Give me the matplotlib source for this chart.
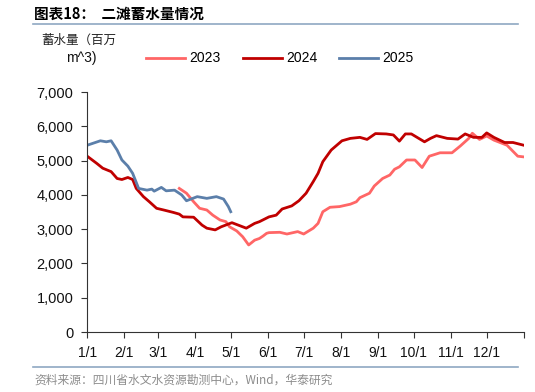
import numpy as np
import matplotlib
matplotlib.use("Agg")
import matplotlib.pyplot as plt

plt.rcParams['font.family'] = ['Liberation Sans', 'Noto Sans CJK SC', 'DejaVu Sans']

# ------------------------
# Data (day of year -> storage, million m^3)
# ------------------------

DAYS_2023 = [77, 83, 89, 94, 100, 105, 111, 116, 119, 125, 130, 135, 140, 144, 147,
             150, 152, 161, 167, 176, 181, 189, 193, 197, 203, 211, 220, 225, 228,
             236, 240, 247, 253, 257, 261, 267, 274, 280, 286, 295, 305, 312, 319,
             322, 328, 334, 340, 351, 360, 365]
VALS_2023 = [4190, 4050, 3800, 3610, 3560, 3410, 3270, 3220, 3070, 2950, 2780, 2540,
             2680, 2730, 2800, 2880, 2900, 2910, 2860, 2930, 2860, 3030, 3170, 3510,
             3640, 3660, 3730, 3800, 3920, 4050, 4260, 4480, 4580, 4750, 4820, 5020,
             5020, 4800, 5130, 5230, 5230, 5430, 5650, 5800, 5620, 5720, 5600, 5450,
             5130, 5110]

DAYS_2024 = [0, 8, 13, 20, 25, 29, 34, 38, 41, 47, 52, 58, 64, 72, 77, 80, 89, 96,
             100, 107, 112, 121, 133, 140, 144, 152, 158, 163, 171, 177, 183, 189,
             193, 197, 204, 213, 220, 228, 234, 241, 250, 256, 261, 266, 271, 282,
             287, 292, 301, 310, 316, 323, 330, 334, 340, 349, 356, 365]
VALS_2024 = [5130, 4920, 4780, 4680, 4480, 4450, 4510, 4450, 4190, 3950, 3800, 3610,
             3560, 3490, 3440, 3360, 3350, 3120, 3030, 2980, 3070, 3190, 3030, 3170,
             3220, 3360, 3410, 3590, 3680, 3830, 4050, 4390, 4630, 4970, 5310, 5580,
             5650, 5680, 5620, 5790, 5780, 5750, 5570, 5780, 5780, 5550, 5650, 5730,
             5650, 5630, 5780, 5680, 5680, 5810, 5680, 5530, 5530, 5450]

DAYS_2025 = [0, 11, 16, 20, 25, 29, 34, 38, 43, 50, 54, 56, 62, 66, 73, 79, 83, 92,
             100, 108, 114, 118, 120]
VALS_2025 = [5450, 5580, 5550, 5580, 5310, 5020, 4840, 4630, 4190, 4140, 4170, 4110,
             4220, 4120, 4140, 4000, 3830, 3950, 3900, 3950, 3880, 3660, 3510]

MONTH_STARTS = [0, 31, 59, 90, 120, 151, 181, 212, 243, 273, 304, 334, 365]
MONTH_LABELS = ["1/1", "2/1", "3/1", "4/1", "5/1", "6/1", "7/1", "8/1", "9/1",
                "10/1", "11/1", "12/1", ""]

YTICKS = [0, 1000, 2000, 3000, 4000, 5000, 6000, 7000]

C2023 = "#FF6666"
C2024 = "#C00000"
C2025 = "#5B7FAA"

# ------------------------
# Plot
# ------------------------

fig = plt.figure(figsize=(5.35, 3.92), dpi=100)
ax = fig.add_axes([0.163, 0.153, 0.816, 0.612])

l1, = ax.plot(DAYS_2023, VALS_2023, color=C2023, lw=2.0, label="2023")
l2, = ax.plot(DAYS_2024, VALS_2024, color=C2024, lw=2.0, label="2024")
l3, = ax.plot(DAYS_2025, VALS_2025, color=C2025, lw=2.0, label="2025")

ax.set_xlim(0, 365)
ax.set_ylim(0, 7000)
ax.set_xticks(MONTH_STARTS)
ax.set_xticklabels(MONTH_LABELS)
ax.set_yticks(YTICKS)
ax.set_yticklabels([f"{v:,}" for v in YTICKS])
ax.tick_params(labelsize=10, length=4, width=0.8, color="#333333", labelcolor="#111111")
ax.tick_params(axis="y", labelsize=10.5, pad=6)
ax.tick_params(axis="x", pad=6)
for s in ["top", "right"]:
    ax.spines[s].set_visible(False)
for s in ["left", "bottom"]:
    ax.spines[s].set_color("#333333")
    ax.spines[s].set_linewidth(0.8)

fig.legend(handles=[l1, l2, l3], loc="center left", bbox_to_anchor=(0.25, 0.851),
           ncol=3, frameon=False, fontsize=10, handlelength=2.8, handletextpad=0.3,
           columnspacing=1.6)

# Header, unit label and source
fig.text(0.064, 0.966, "图表18：  二滩蓄水量情况", fontsize=10.5, fontweight="bold",
         va="center", family=['Noto Sans CJK SC', 'DejaVu Sans'])
fig.add_artist(plt.Line2D([0.062, 0.968], [0.939, 0.939], color="#8FA8C2", lw=1.2))
fig.text(0.077, 0.898, "蓄水量（百万", fontsize=9, va="center", color="#222222",
         family=['Noto Sans CJK SC', 'DejaVu Sans'])
fig.text(0.123, 0.851, "m^3)", fontsize=10, va="center", color="#111111")
fig.add_artist(plt.Line2D([0.062, 0.968], [0.064, 0.064], color="#8FA8C2", lw=1.2))
fig.text(0.064, 0.030, "资料来源：四川省水文水资源勘测中心，Wind，华泰研究", fontsize=8.5,
         va="center", color="#8C8C8C", family=['Noto Sans CJK SC', 'DejaVu Sans'])

fig.savefig("out.png", dpi=100)
